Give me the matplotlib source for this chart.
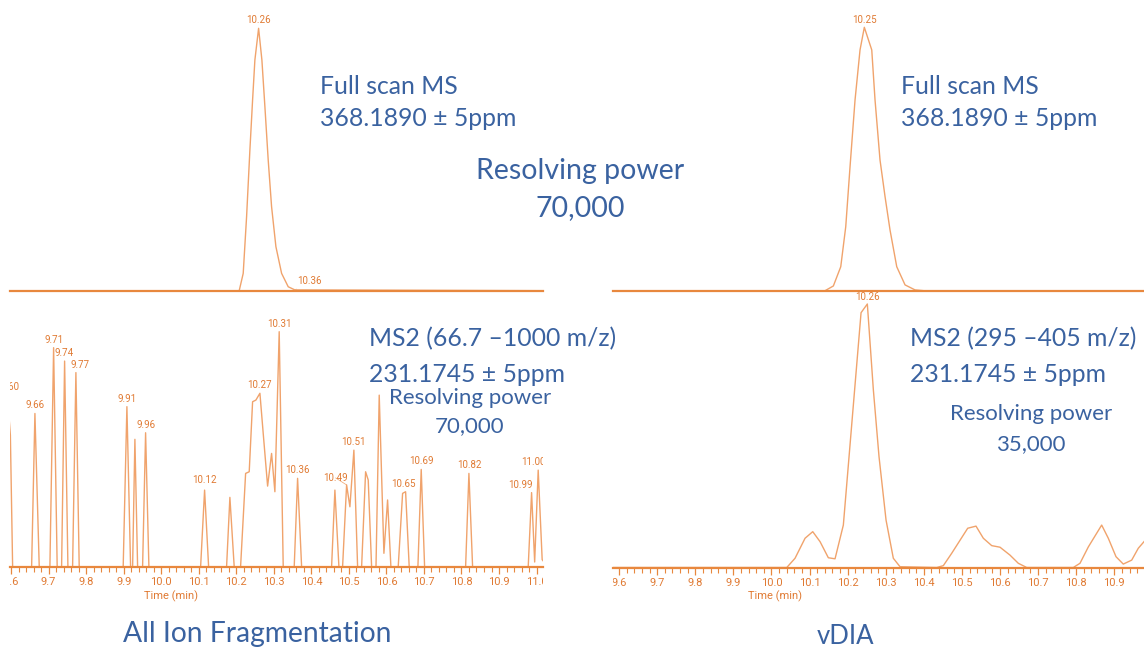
import matplotlib
matplotlib.use('Agg')
import matplotlib.pyplot as plt
from matplotlib import font_manager
from matplotlib.ticker import MultipleLocator, FormatStrFormatter
from matplotlib.transforms import Bbox, TransformedBbox

# ---- data (time in min, relative intensity %) ----
# full scan MS, All Ion Fragmentation run
fs_aif_t = [9.597, 10.2077, 10.2184, 10.2274, 10.2362, 10.2434, 10.2495, 10.2594,
            10.2682, 10.2762, 10.2850, 10.2940, 10.3055, 10.3207, 10.3383, 10.3561, 11.018]
fs_aif_i = [0, 0, 6.6, 28.2, 53.6, 72.7, 87.9, 100,
            87.9, 70.1, 49.8, 32.0, 16.8, 6.6, 1.5, 0.3, 0]

# full scan MS, vDIA run
fs_vdia_t = [9.584, 10.1407, 10.1625, 10.1819, 10.1950, 10.2063, 10.2194, 10.2325, 10.2438,
             10.2633, 10.2719, 10.2850, 10.2982, 10.3113, 10.3289, 10.3507, 10.3769, 10.40, 10.978]
fs_vdia_i = [0, 0, 1.8, 9.1, 24.3, 47.1, 72.4, 91.4, 100,
             91.4, 72.4, 49.6, 35.7, 23.0, 9.1, 2.2, 0.3, 0, 0]

# MS2 231.1745, All Ion Fragmentation
ms2_aif_t = [9.590, 9.598, 9.604,
             9.6546, 9.6634, 9.6749,
             9.7033, 9.7132, 9.7227,
             9.7345, 9.7425, 9.7513,
             9.7638, 9.7726, 9.7814,
             9.8986, 9.9085, 9.9183,
             9.9237, 9.9298, 9.9370,
             9.9503, 9.9583, 9.9671,
             10.1049, 10.1155, 10.1262,
             10.1741, 10.1829, 10.1944,
             10.2114, 10.2248, 10.2344, 10.2434, 10.2522, 10.2629, 10.2717, 10.2834,
             10.2940, 10.3028, 10.3143, 10.3250,
             10.3543, 10.3633, 10.3740,
             10.4539, 10.4627, 10.4734,
             10.4832, 10.4939, 10.5027, 10.5133, 10.5232,
             10.5339, 10.5445, 10.5515, 10.5605,
             10.5722, 10.5808, 10.5933, 10.6031, 10.6119,
             10.6314, 10.6431, 10.6511, 10.6607,
             10.6839, 10.6927, 10.7017,
             10.8110, 10.8198, 10.8296,
             10.9778, 10.9868, 10.9950, 11.0044, 11.0150, 11.03]
ms2_aif_i = [73, 56, 0,
             0, 65.2, 0,
             0, 93.2, 0,
             0, 87.5, 0,
             0, 82.6, 0,
             0, 68.1, 0,
             0, 54.2, 0,
             0, 57.0, 0,
             0, 32.6, 0,
             0, 29.5, 0,
             0, 39.7, 40.4, 70.2, 70.9, 73.8, 56.7, 34.3,
             48.2, 31.9, 100, 0,
             0, 37.6, 0,
             0, 32.6, 0,
             0, 34.8, 25.5, 49.6, 0,
             0, 40.4, 36.9, 0,
             0, 73.0, 5.7, 28.4, 0,
             0, 31.2, 31.9, 0,
             0, 41.4, 0,
             0, 39.7, 0,
             0, 31.5, 2, 41.1, 3, 0]

# MS2 231.1745, vDIA
ms2_vdia_t = [9.584, 10.0402, 10.0619, 10.0882, 10.1084, 10.1276, 10.1493, 10.1669, 10.1887,
              10.2352, 10.2517, 10.2675, 10.2824, 10.3008, 10.3199, 10.3375,
              10.4339, 10.4512, 10.4732, 10.5152, 10.5370, 10.5562, 10.5782, 10.6000,
              10.6262, 10.6480, 10.6701, 10.7924, 10.8100, 10.8318, 10.8669, 10.8843,
              10.9045, 10.9236, 10.9457, 10.9630, 10.9780, 10.99]
ms2_vdia_i = [0, 0, 3.5, 11.1, 13.6, 9.8, 3.7, 3.3, 16.1,
              96.7, 100, 67.4, 42.0, 18.0, 3.5, 0.3,
              0, 0.7, 5.4, 14.9, 15.7, 11.1, 8.3, 7.7,
              4.7, 1.6, 0, 0, 1.6, 7.8, 16.1, 11.1,
              4.1, 1.3, 2.8, 7.3, 9.8, 12]

# peak labels (time, intensity, text)
fs_aif_labels = [(10.2594, 100, '10.26'), (10.3561, 0.3, '10.36')]
fs_vdia_labels = [(10.2438, 100, '10.25')]
ms2_aif_labels = [(9.590, 73, '9.60'), (9.6634, 65.2, '9.66'), (9.7132, 93.2, '9.71'),
                  (9.7425, 87.5, '9.74'), (9.7726, 82.6, '9.77'), (9.9085, 68.1, '9.91'),
                  (9.9583, 57.0, '9.96'), (10.1155, 32.6, '10.12'), (10.2629, 73.8, '10.27'),
                  (10.3143, 100, '10.31'), (10.3633, 37.6, '10.36'), (10.4939, 34.8, '10.49'),
                  (10.5133, 49.6, '10.51'), (10.6511, 31.9, '10.65'), (10.6927, 41.4, '10.69'),
                  (10.8198, 39.7, '10.82'), (10.9868, 31.5, '10.99'), (11.0044, 41.1, '11.00')]
ms2_vdia_labels = [(10.2517, 100, '10.26')]

# ---- style ----
W, H = 1144, 648
line_c = '#F0A36C'
axis_c = '#E8883E'
num_c = '#E07A33'
blue = '#3A62A0'

names = {f.name for f in font_manager.fontManager.ttflist}
small_font = 'Liberation Sans Narrow' if 'Liberation Sans Narrow' in names else 'Roboto'
big_font = 'Lato'

fig = plt.figure(figsize=(W / 100, H / 100), dpi=100)


def panel(left, right, base, top, xlim):
    # pixel box -> axes, 0..100 % maps base..top, extra headroom for labels
    h100 = base - top
    ax = fig.add_axes([left / W, 1 - base / H, (right - left) / W, h100 * 1.12 / H])
    ax.set_ylim(0, 112)
    ax.set_xlim(*xlim)
    ax.patch.set_visible(False)
    for s in ['top', 'right', 'left']:
        ax.spines[s].set_visible(False)
    ax.spines['bottom'].set_color(axis_c)
    ax.spines['bottom'].set_linewidth(1.6)
    ax.set_yticks([])
    return ax


def labels(ax, items, offsets=None):
    offsets = offsets or {}
    for t, i, txt in items:
        dx, dy = offsets.get(txt, (0, 8))
        kw = {}
        if abs(dx) > 8:
            kw['arrowprops'] = dict(arrowstyle='-', lw=0.5, color=line_c, shrinkA=0, shrinkB=0)
        ax.annotate(txt, (t, i), xytext=(dx * 0.72, dy * 0.72), textcoords='offset points',
                    ha='center', va='center', fontsize=7, color=num_c, family=small_font,
                    clip_on=True, annotation_clip=False, **kw)


def time_axis(ax, tlabel):
    ax.xaxis.set_major_locator(MultipleLocator(0.1))
    ax.xaxis.set_minor_locator(MultipleLocator(0.02))
    ax.xaxis.set_major_formatter(FormatStrFormatter('%.1f'))
    ax.tick_params(which='major', length=5, width=0.9, color=axis_c, labelcolor=num_c,
                   labelsize=8, pad=2.5)
    ax.tick_params(which='minor', length=3.5, width=0.8, color=axis_c)
    clip = TransformedBbox(Bbox([[0, -0.6], [1, 1.2]]), ax.transAxes)
    for lab in ax.get_xticklabels():
        lab.set_family(small_font)
        lab.set_clip_box(clip)
        lab.set_clip_on(True)
    ax.annotate('Time (min)', (tlabel, 0), xycoords=('data', 'axes fraction'),
                xytext=(0, -21), textcoords='offset points', ha='center', va='center',
                fontsize=8, color=num_c, family=small_font)


left_lim = (9.597, 11.018)
right_lim = (9.584, 10.978)

ax_tl = panel(10, 543.3, 290.7, 28.3, left_lim)
ax_tl.plot(fs_aif_t, fs_aif_i, color=line_c, lw=1.0)
ax_tl.set_xticks([])
labels(ax_tl, fs_aif_labels, {'10.36': (15, 8.6)})

ax_tr = panel(613, 1144, 290.7, 27.3, right_lim)
ax_tr.plot(fs_vdia_t, fs_vdia_i, color=line_c, lw=1.0)
ax_tr.set_xticks([])
labels(ax_tr, fs_vdia_labels, {'10.25': (0, 7.3)})

ax_bl = panel(10, 543.3, 566.7, 331.7, left_lim)
ax_bl.plot(ms2_aif_t, ms2_aif_i, color=line_c, lw=1.0)
time_axis(ax_bl, 10.025)
labels(ax_bl, ms2_aif_labels, {'9.60': (3, 8), '9.77': (4, 8), '10.49': (-11, 7),
                               '10.65': (-2, 8), '10.99': (-11, 8), '11.00': (-5, 8),
                               '10.12': (0, 10)})

ax_br = panel(613, 1144, 567.5, 304, right_lim)
ax_br.plot(ms2_vdia_t, ms2_vdia_i, color=line_c, lw=1.0)
time_axis(ax_br, 10.01)
labels(ax_br, ms2_vdia_labels, {'10.26': (0, 7.3)})


def btext(x, y, s, size, ha='left'):
    fig.text(x / W, 1 - y / H, s, fontsize=size, color=blue, family=big_font,
             ha=ha, va='center')


btext(320, 86, 'Full scan MS', 17.8)
btext(320, 119, '368.1890 ± 5ppm', 17.8)
btext(580, 171, 'Resolving power', 20.5, 'center')
btext(580, 208, '70,000', 20.5, 'center')
btext(901, 86, 'Full scan MS', 17.8)
btext(901, 119, '368.1890 ± 5ppm', 17.8)

btext(369, 339, 'MS2 (66.7 –1000 m/z)', 17.8)
btext(369, 374, '231.1745 ± 5ppm', 17.8)
btext(470, 398, 'Resolving power', 16, 'center')
btext(470, 426, '70,000', 16, 'center')

btext(910, 339, 'MS2 (295 –405 m/z)', 17.8)
btext(910, 374, '231.1745 ± 5ppm', 17.8)
btext(1031, 414, 'Resolving power', 16, 'center')
btext(1031, 444, '35,000', 16, 'center')

btext(123, 634, 'All Ion Fragmentation', 20.3)
btext(845, 637, 'vDIA', 18.5, 'center')

fig.savefig('out.png', dpi=100)
plt.close(fig)
